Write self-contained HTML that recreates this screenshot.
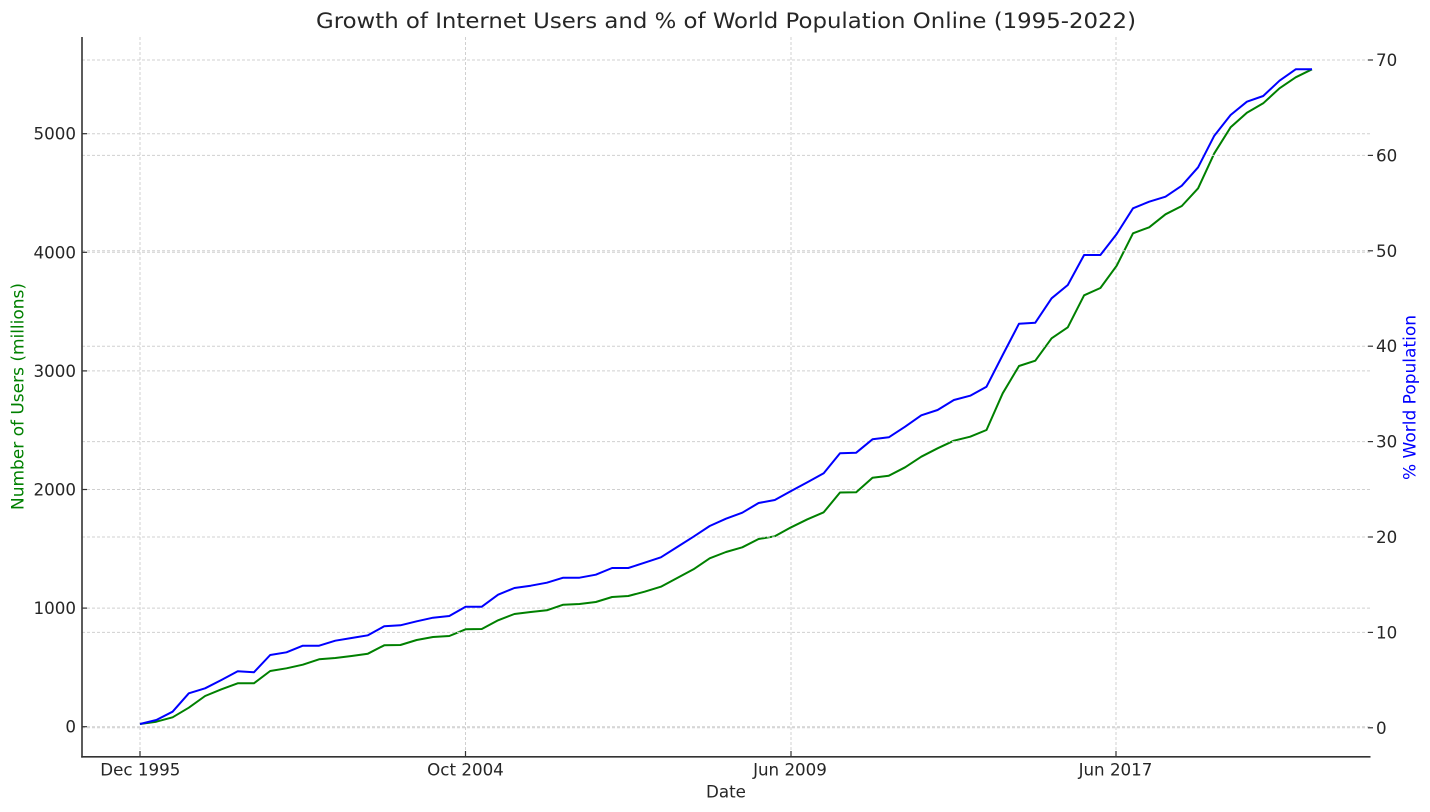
<!DOCTYPE html>
<html><head><meta charset="utf-8"><style>
html,body{margin:0;padding:0;background:#fff;}
svg{display:block;}
text{font-family:"DejaVu Sans","Liberation Sans",sans-serif;fill:#262626;}
</style></head><body>
<svg width="1430" height="812" viewBox="0 0 1430 812" xmlns="http://www.w3.org/2000/svg">
<rect width="1430" height="812" fill="#fff"/>
<!-- vertical grid -->
<g stroke="#d0d0d0" stroke-width="1" stroke-dasharray="3,2">
<line x1="140" y1="37" x2="140" y2="757"/>
<line x1="465.5" y1="37" x2="465.5" y2="757"/>
<line x1="791" y1="37" x2="791" y2="757"/>
<line x1="1116" y1="37" x2="1116" y2="757"/>
<!-- left grid -->
<line x1="82" y1="726.7" x2="1370" y2="726.7"/>
<line x1="82" y1="608.1" x2="1370" y2="608.1"/>
<line x1="82" y1="489.5" x2="1370" y2="489.5"/>
<line x1="82" y1="370.9" x2="1370" y2="370.9"/>
<line x1="82" y1="252.3" x2="1370" y2="252.3"/>
<line x1="82" y1="133.7" x2="1370" y2="133.7"/>
</g>
<polyline fill="none" stroke="#008000" stroke-width="2" stroke-linejoin="round" points="140,724 156.3,721.7 172.6,717.3 188.8,707.7 205.1,696 221.4,689.3 237.7,683.3 253.9,683.3 270.2,671 286.5,668.3 302.8,664.7 319.1,659.3 335.3,658 351.6,656 367.9,653.7 384.2,645.3 400.4,645 416.7,640 433,637 449.3,636 465.6,629.3 481.8,629 498.1,620.3 514.4,614 530.7,612 546.9,610.3 563.2,604.7 579.5,604 595.8,602 612.1,597 628.3,596 644.6,591.7 660.9,586.7 677.2,578 693.5,569.3 709.7,558.3 726,552 742.3,547.3 758.6,539 774.8,536.3 791.1,527.3 807.4,519.3 823.7,512.3 840,492.5 856.2,492.3 872.5,477.7 888.8,475.7 905.1,467.3 921.3,456.7 937.6,448.3 953.9,440.7 970.2,436.7 986.5,430 1002.7,393.3 1019,366 1035.3,360.7 1051.6,338.3 1067.8,327.3 1084.1,295.3 1100.4,288 1116.7,265.7 1133,233.3 1149.2,227.3 1165.5,214.3 1181.8,206 1198.1,188.3 1214.3,153.3 1230.6,127.3 1246.9,112.7 1263.2,103.3 1279.5,88.3 1295.7,77.3 1312,69.3"/>
<!-- right grid -->
<g stroke="#d0d0d0" stroke-width="1" stroke-dasharray="3,2">
<line x1="82" y1="727.8" x2="1368" y2="727.8"/>
<line x1="82" y1="632.4" x2="1368" y2="632.4"/>
<line x1="82" y1="537" x2="1368" y2="537"/>
<line x1="82" y1="441.6" x2="1368" y2="441.6"/>
<line x1="82" y1="346.2" x2="1368" y2="346.2"/>
<line x1="82" y1="250.8" x2="1368" y2="250.8"/>
<line x1="82" y1="155.4" x2="1368" y2="155.4"/>
<line x1="82" y1="60" x2="1368" y2="60"/>
</g>
<polyline fill="none" stroke="#0000ff" stroke-width="2" stroke-linejoin="round" points="140,724 156.3,720 172.6,711.7 188.8,693.3 205.1,688.3 221.4,680 237.7,671.3 253.9,672.3 270.2,655 286.5,652.3 302.8,645.7 319.1,645.7 335.3,640.7 351.6,638 367.9,635.3 384.2,626.3 400.4,625.3 416.7,621.3 433,617.7 449.3,616 465.6,606.7 481.8,606.7 498.1,594.7 514.4,588 530.7,585.7 546.9,582.7 563.2,577.7 579.5,577.7 595.8,574.7 612.1,568 628.3,568 644.6,562.7 660.9,557.3 677.2,547 693.5,536.7 709.7,526 726,518.7 742.3,512.7 758.6,503 774.8,500 791.1,491 807.4,482.3 823.7,473.3 840,453.3 856.2,452.7 872.5,439.3 888.8,437.3 905.1,426.7 921.3,415.3 937.6,410 953.9,400 970.2,395.7 986.5,386.7 1002.7,355 1019,323.7 1035.3,322.7 1051.6,298.3 1067.8,285 1084.1,255 1100.4,255 1116.7,234 1133,208.3 1149.2,201.7 1165.5,196.7 1181.8,185.7 1198.1,167.3 1214.3,135.7 1230.6,115 1246.9,101.7 1263.2,96 1279.5,80.7 1295.7,69.3 1312,69.3"/>
<!-- spines -->
<g stroke="#333" stroke-width="1.6">
<line x1="82" y1="37" x2="82" y2="757.6"/>
<line x1="81.2" y1="756.8" x2="1370.5" y2="756.8"/>
</g>
<!-- ticks -->
<g stroke="#333" stroke-width="1.2">
<line x1="82" y1="726.7" x2="87" y2="726.7"/>
<line x1="82" y1="608.1" x2="87" y2="608.1"/>
<line x1="82" y1="489.5" x2="87" y2="489.5"/>
<line x1="82" y1="370.9" x2="87" y2="370.9"/>
<line x1="82" y1="252.3" x2="87" y2="252.3"/>
<line x1="82" y1="133.7" x2="87" y2="133.7"/>
<line x1="140" y1="751" x2="140" y2="757"/>
<line x1="465.5" y1="751" x2="465.5" y2="757"/>
<line x1="791" y1="751" x2="791" y2="757"/>
<line x1="1116" y1="751" x2="1116" y2="757"/>
<line x1="1368" y1="727.8" x2="1373" y2="727.8"/>
<line x1="1368" y1="632.4" x2="1373" y2="632.4"/>
<line x1="1368" y1="537" x2="1373" y2="537"/>
<line x1="1368" y1="441.6" x2="1373" y2="441.6"/>
<line x1="1368" y1="346.2" x2="1373" y2="346.2"/>
<line x1="1368" y1="250.8" x2="1373" y2="250.8"/>
<line x1="1368" y1="155.4" x2="1373" y2="155.4"/>
<line x1="1368" y1="60" x2="1373" y2="60"/>
</g>
<!-- left tick labels -->
<g font-size="16.7" text-anchor="end">
<text x="76" y="732.7">0</text>
<text x="76" y="614.1">1000</text>
<text x="76" y="495.5">2000</text>
<text x="76" y="376.9">3000</text>
<text x="76" y="258.3">4000</text>
<text x="76" y="139.7">5000</text>
</g>
<!-- right tick labels -->
<g font-size="16.7" text-anchor="start">
<text x="1376" y="733.8">0</text>
<text x="1376" y="638.4">10</text>
<text x="1376" y="543">20</text>
<text x="1376" y="447.6">30</text>
<text x="1376" y="352.2">40</text>
<text x="1376" y="256.8">50</text>
<text x="1376" y="161.4">60</text>
<text x="1376" y="66">70</text>
</g>
<!-- x tick labels -->
<g font-size="16.7" text-anchor="middle">
<text x="140.3" y="775.5">Dec 1995</text>
<text x="465.5" y="775.5">Oct 2004</text>
<text x="790" y="775.5">Jun 2009</text>
<text x="1115.5" y="775.5">Jun 2017</text>
</g>
<text x="726" y="797.5" font-size="16.7" text-anchor="middle">Date</text>
<text x="726" y="28" font-size="21.5" text-anchor="middle" textLength="820" lengthAdjust="spacingAndGlyphs">Growth of Internet Users and % of World Population Online (1995-2022)</text>
<text transform="translate(23.5,396.5) rotate(-90)" font-size="16.7" text-anchor="middle" style="fill:#008000" textLength="227" lengthAdjust="spacingAndGlyphs">Number of Users (millions)</text>
<text transform="translate(1415.5,397.5) rotate(-90)" font-size="16.7" text-anchor="middle" style="fill:#0000ff" textLength="165" lengthAdjust="spacingAndGlyphs">% World Population</text>
</svg>
</body></html>
